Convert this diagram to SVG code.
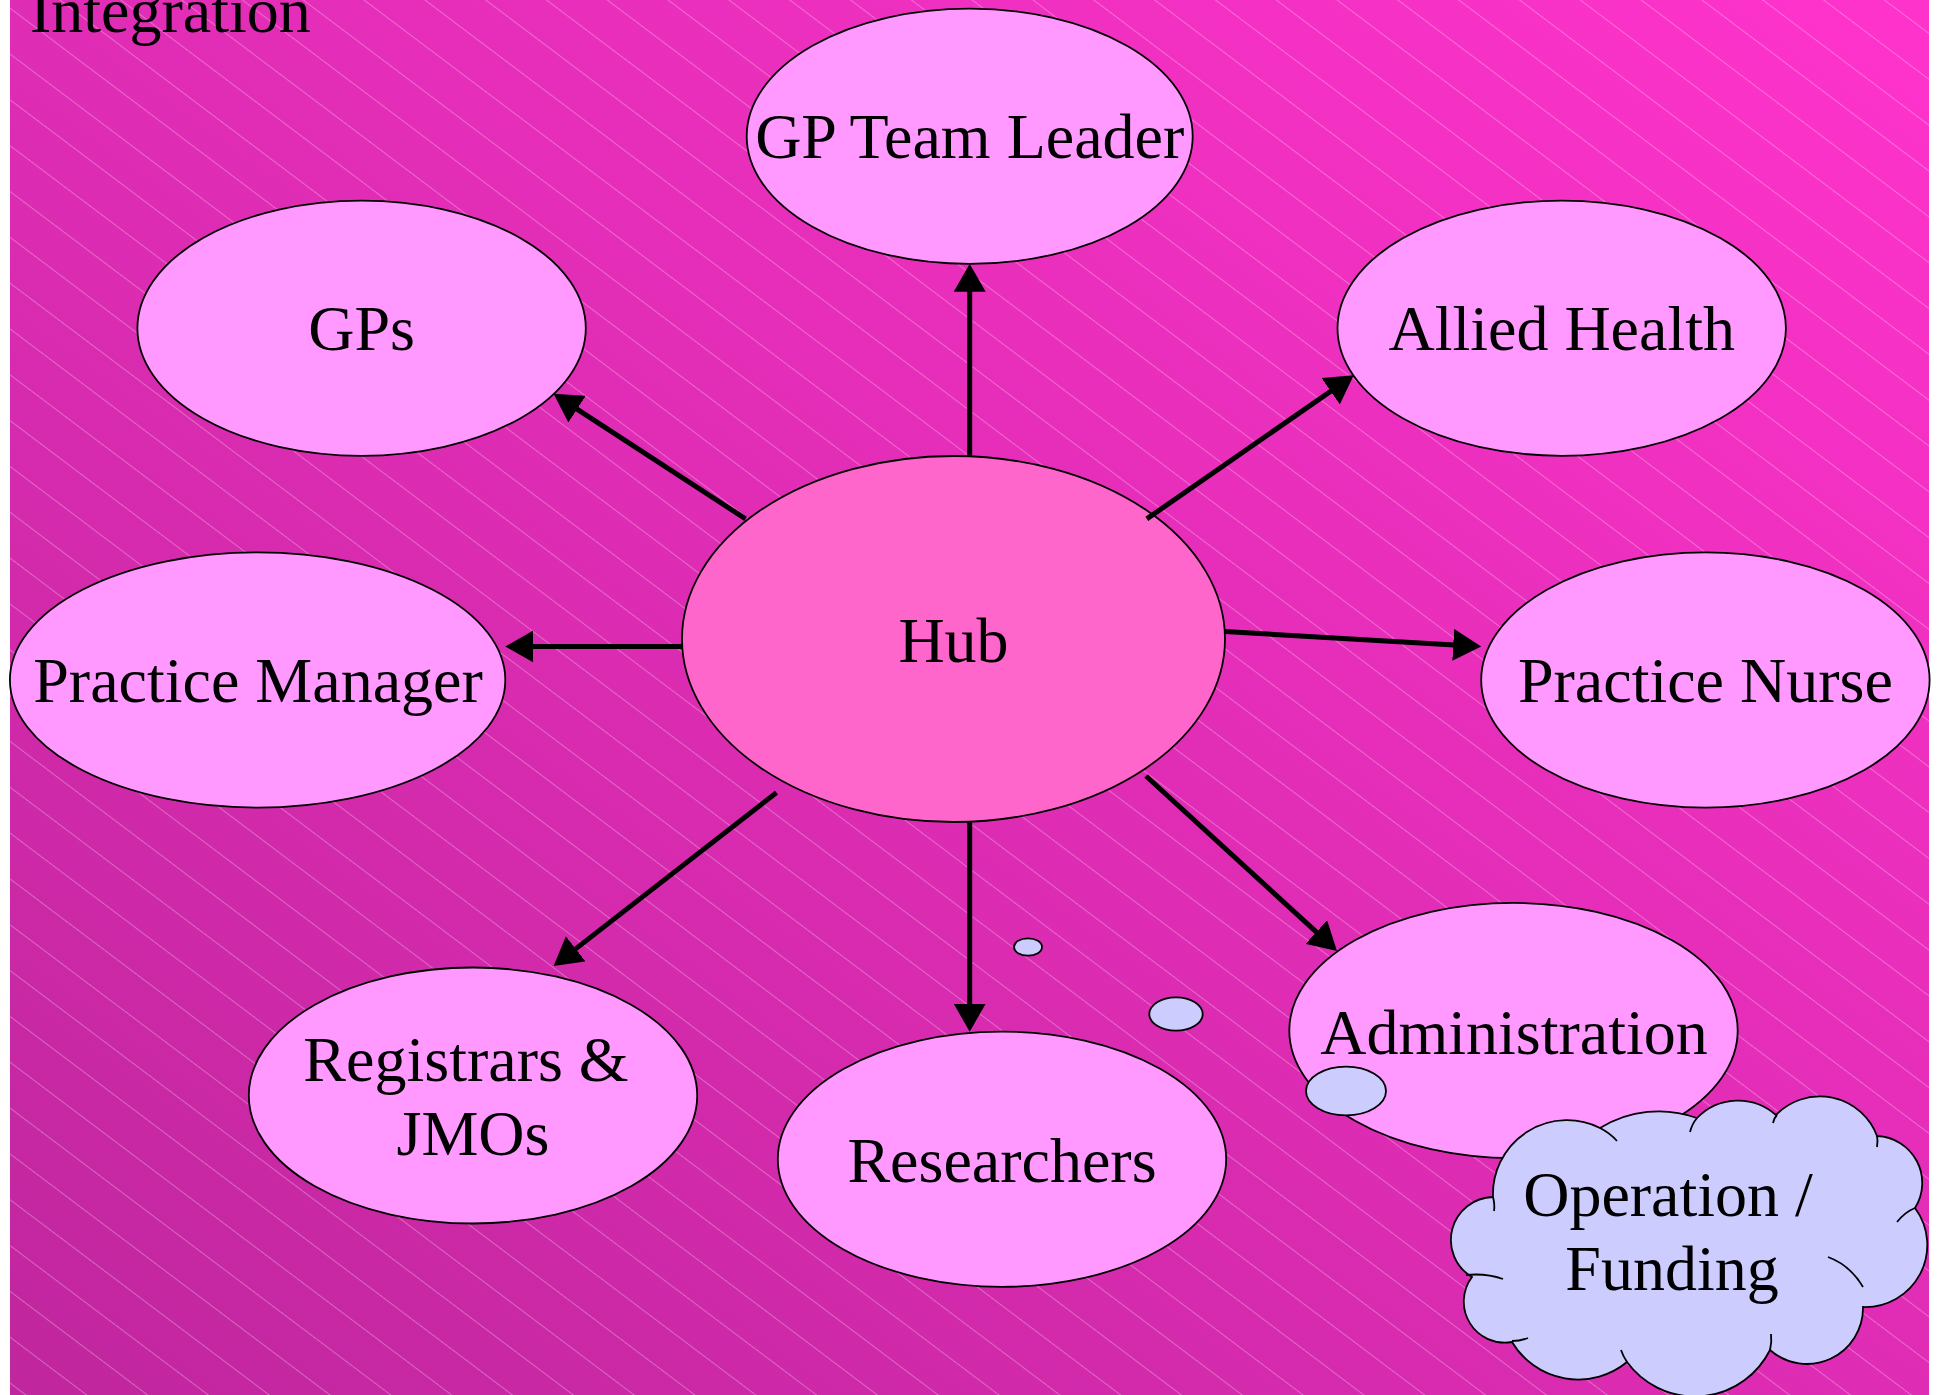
<svg xmlns="http://www.w3.org/2000/svg" width="1942" height="1395" viewBox="0 0 1942 1395">
  <defs>
    <linearGradient id="bg" x1="1" y1="0" x2="0" y2="1">
      <stop offset="0" stop-color="#FF33CC"/>
      <stop offset="1" stop-color="#C0269E"/>
    </linearGradient>
    <pattern id="hatch" patternUnits="userSpaceOnUse" width="40" height="36.6" patternTransform="rotate(37)">
      <line x1="0" y1="0.5" x2="40" y2="0.5" stroke="#FFFFFF" stroke-opacity="0.3" stroke-width="1"/>
    </pattern>
    <marker id="ah" markerUnits="userSpaceOnUse" viewBox="0 0 28 32" markerWidth="28" markerHeight="32" refX="18" refY="16" orient="auto">
      <path d="M0,0 L28,16 L0,32 Z" fill="#000000"/>
    </marker>
    <style>
      .node ellipse { fill: #FF99FF; stroke: #000000; stroke-width: 1.8; }
      .node ellipse.hub { fill: #FF66CC; }
      .lbl { font-family: "Liberation Serif", "Times New Roman", serif; font-size: 64px; text-anchor: middle; fill: #000000; }
      .conn line { stroke: #000000; stroke-width: 5; marker-end: url(#ah); }
      .cloud { fill: #CCCCFF; stroke: #000000; stroke-width: 1.8; }
      .crease { fill: none; stroke: #000000; stroke-width: 1.8; }
    </style>
  </defs>

  <rect x="0" y="0" width="1942" height="1395" fill="#FFFFFF"/>
  <rect x="10" y="0" width="1919" height="1395" fill="url(#bg)"/>
  <rect x="10" y="0" width="1919" height="1395" fill="url(#hatch)"/>

  <text class="lbl" x="30" y="32" style="text-anchor:start">Integration</text>

  <g id="node-gp-team-leader" class="node">
    <ellipse cx="969.7" cy="136.2" rx="223" ry="127.6"/>
    <text class="lbl" x="969.7" y="158">GP Team Leader</text>
  </g>
  <g id="node-gps" class="node">
    <ellipse cx="361.6" cy="328.2" rx="224.2" ry="127.6"/>
    <text class="lbl" x="361.6" y="350">GPs</text>
  </g>
  <g id="node-allied-health" class="node">
    <ellipse cx="1561.7" cy="328.2" rx="224.2" ry="127.6"/>
    <text class="lbl" x="1561.7" y="350">Allied Health</text>
  </g>
  <g id="node-practice-manager" class="node">
    <ellipse cx="257.6" cy="680" rx="247.7" ry="127.6"/>
    <text class="lbl" x="258" y="702">Practice Manager</text>
  </g>
  <g id="node-practice-nurse" class="node">
    <ellipse cx="1705.4" cy="680" rx="224.2" ry="127.6"/>
    <text class="lbl" x="1705.4" y="702">Practice Nurse</text>
  </g>
  <g id="node-hub" class="node">
    <ellipse class="hub" cx="953.5" cy="639" rx="271.5" ry="183"/>
    <text class="lbl" x="953.5" y="662">Hub</text>
  </g>
  <g id="node-registrars" class="node">
    <ellipse cx="473" cy="1095.5" rx="224.2" ry="128"/>
    <text class="lbl" x="466" y="1081">Registrars &amp;</text>
    <text class="lbl" x="473" y="1155">JMOs</text>
  </g>
  <g id="node-researchers" class="node">
    <ellipse cx="1002" cy="1159.2" rx="224.2" ry="127.6"/>
    <text class="lbl" x="1002" y="1182">Researchers</text>
  </g>
  <g id="node-administration" class="node">
    <ellipse cx="1513.5" cy="1030.5" rx="224.2" ry="127.6"/>
    <text class="lbl" x="1514" y="1054">Administration</text>
  </g>

  <g id="connectors" class="conn">
    <line x1="969.7" y1="455.8" x2="969.7" y2="273.8"/>
    <line x1="745.6" y1="518.9" x2="562" y2="399.3"/>
    <line x1="1146.8" y1="518.9" x2="1345.5" y2="381"/>
    <line x1="682.4" y1="646.5" x2="515.3" y2="646.5"/>
    <line x1="1224.9" y1="631.6" x2="1471.2" y2="645.9"/>
    <line x1="776.5" y1="792.6" x2="561.5" y2="959.9"/>
    <line x1="969.7" y1="822.4" x2="969.7" y2="1021.7"/>
    <line x1="1146" y1="776" x2="1329.6" y2="944.2"/>
  </g>

  <g id="node-operation-funding">
    <ellipse class="cloud" cx="1028" cy="947" rx="14" ry="8.7"/>
    <ellipse class="cloud" cx="1176" cy="1014" rx="26.7" ry="16.7"/>
    <ellipse class="cloud" cx="1346" cy="1091" rx="40" ry="24.3"/>
    <path class="cloud" d="M1493,1197 A74,74 0 0 1 1600,1128 A112,112 0 0 1 1697,1118 A57,57 0 0 1 1776,1115 A61,61 0 0 1 1877,1136 A47,47 0 0 1 1915,1208 A62,62 0 0 1 1863,1307 A56,56 0 0 1 1770,1350 A84,84 0 0 1 1627,1362 A77,77 0 0 1 1512,1342 A41,41 0 0 1 1472,1277 A43,43 0 0 1 1493,1197 Z"/>
    <path class="crease" d="M1493,1197 q2,8 1,14"/>
    <path class="crease" d="M1466,1275 q20,-2 37,4"/>
    <path class="crease" d="M1512,1341 q8,0 16,-3"/>
    <path class="crease" d="M1627,1362 q-4,-6 -6,-12"/>
    <path class="crease" d="M1770,1350 q2,-8 1,-16"/>
    <path class="crease" d="M1828,1257 q22,8 35,30"/>
    <path class="crease" d="M1915,1208 q-10,4 -18,14"/>
    <path class="crease" d="M1877,1135 q1,6 0,12"/>
    <path class="crease" d="M1777,1115 q-3,3 -4,8"/>
    <path class="crease" d="M1697,1118 q-5,6 -7,14"/>
    <path class="crease" d="M1600,1128 q10,5 17,13"/>
    <text class="lbl" x="1668" y="1216">Operation /</text>
    <text class="lbl" x="1672" y="1290">Funding</text>
  </g>
</svg>
